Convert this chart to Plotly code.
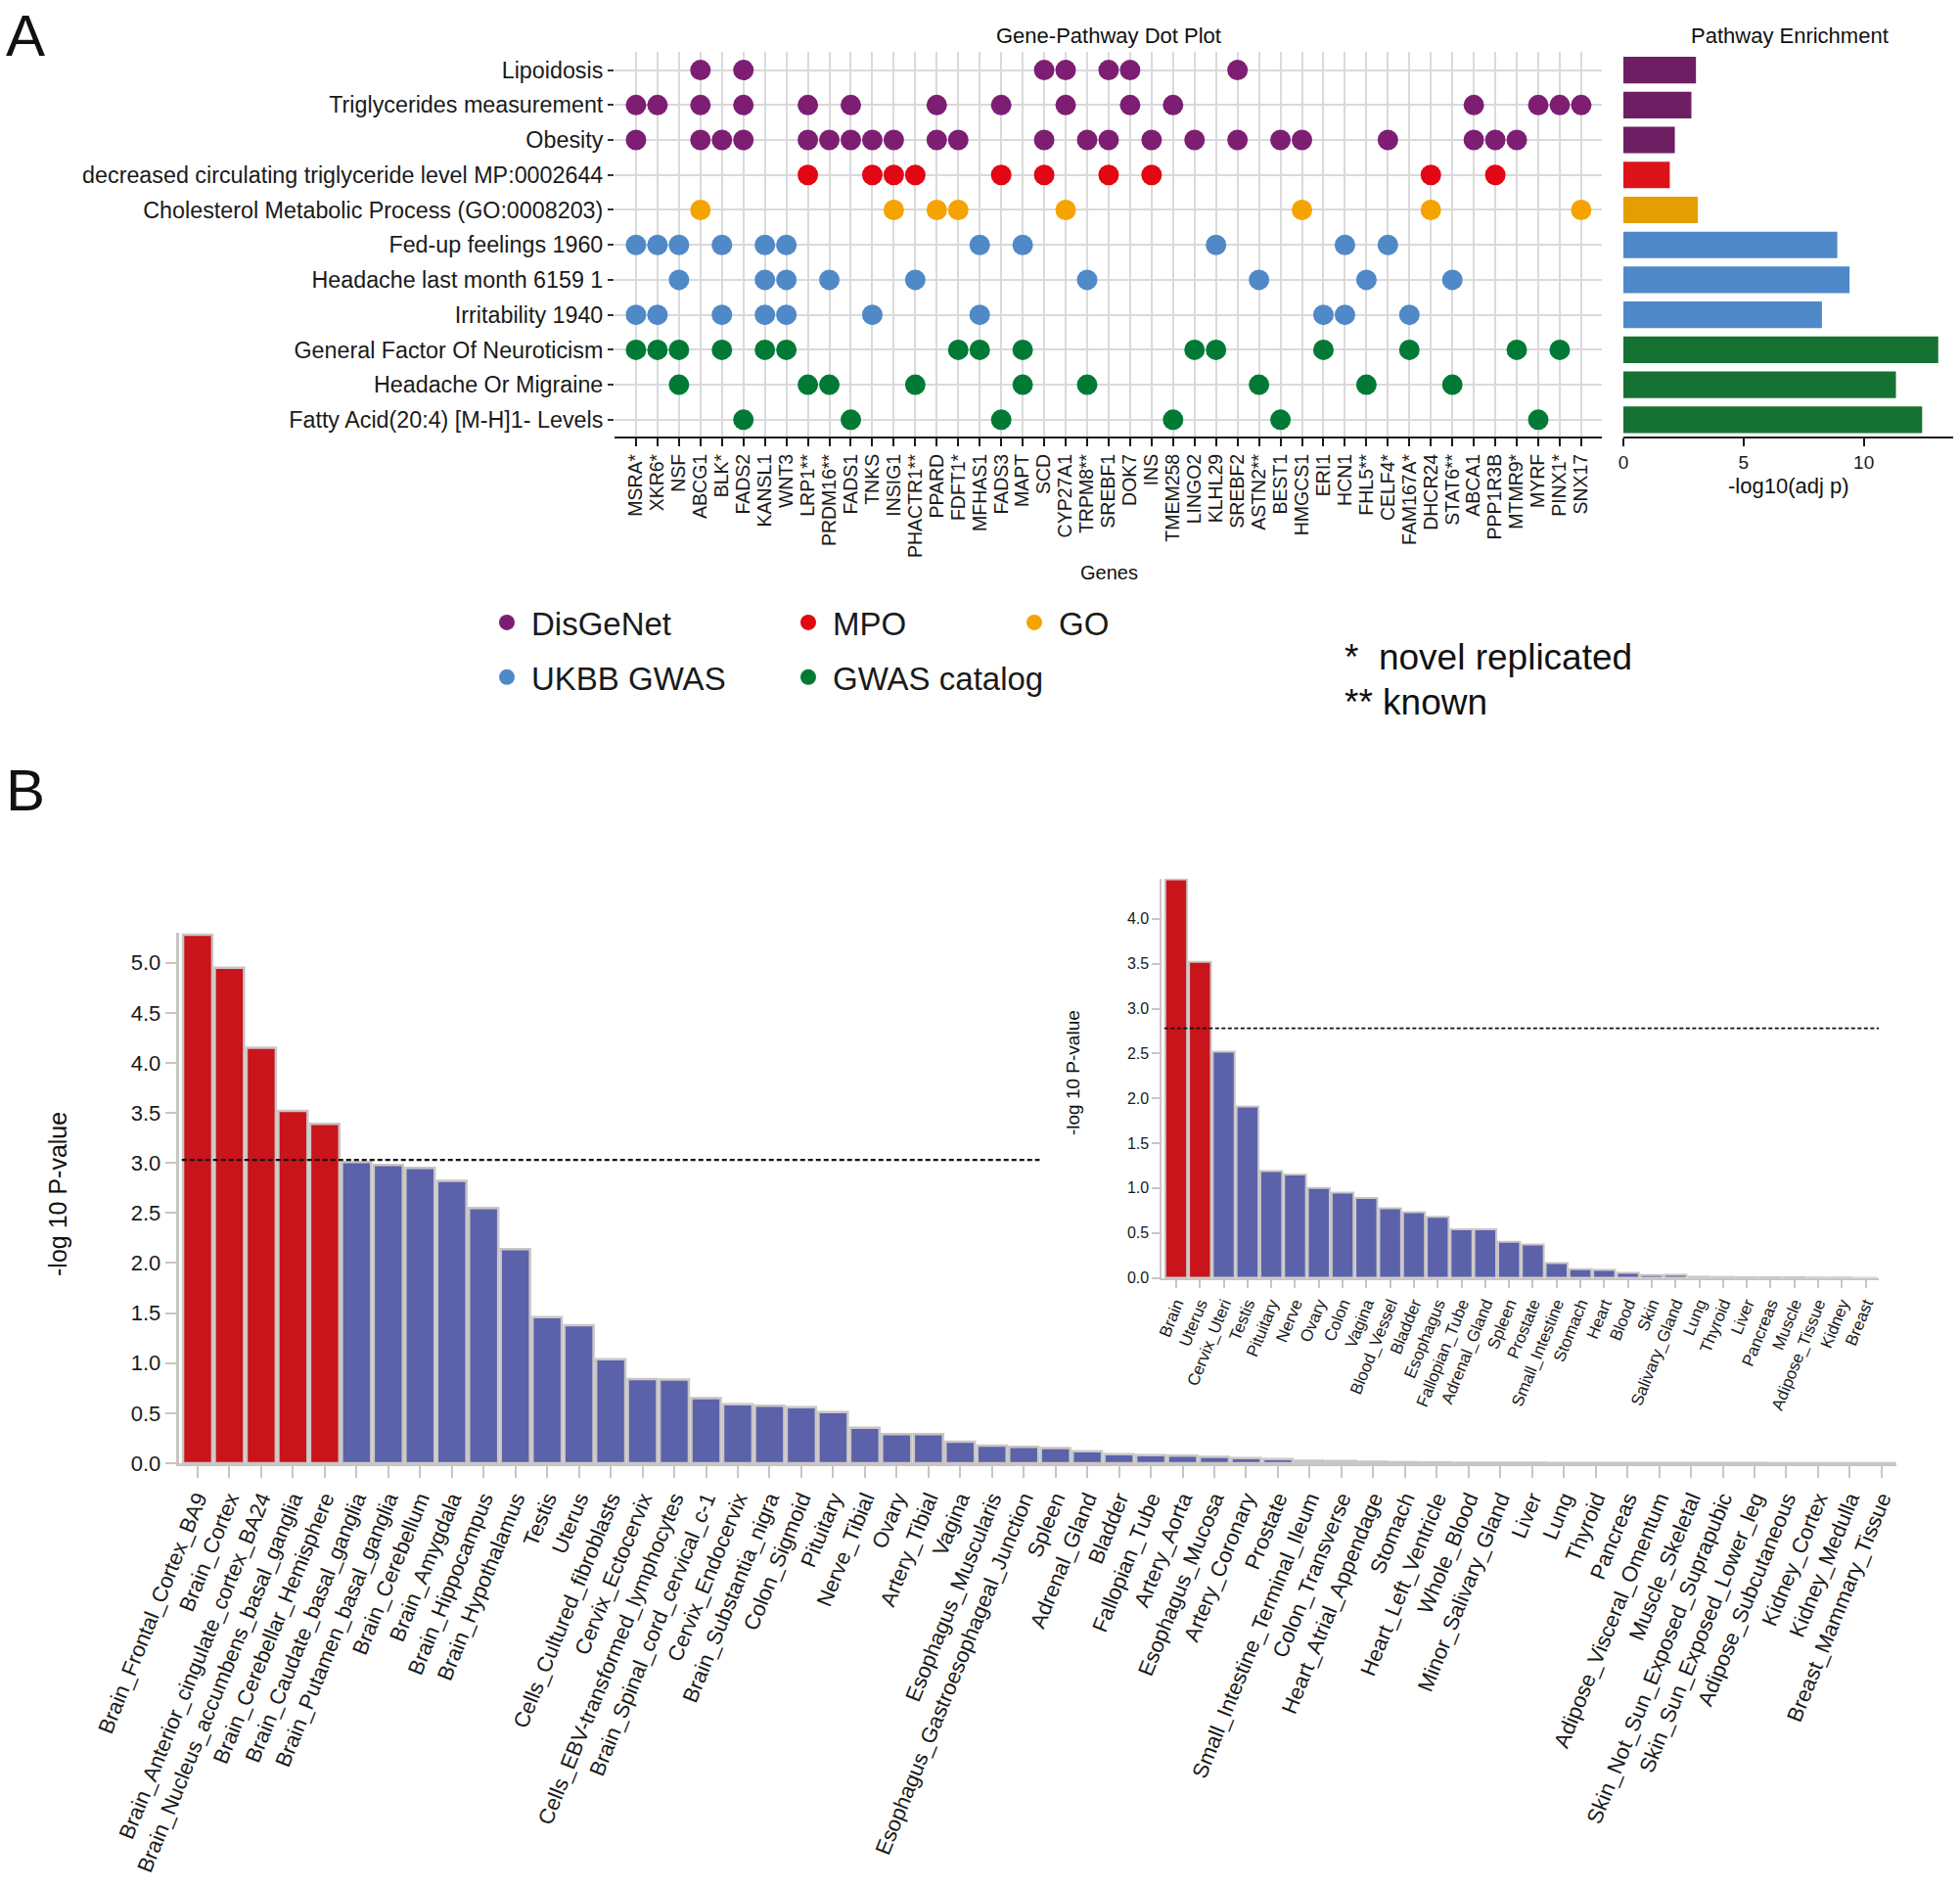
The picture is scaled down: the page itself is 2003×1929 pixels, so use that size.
import plotly.graph_objects as go

W, H = 2003, 1929
FONT = "Liberation Sans, Arial, sans-serif"

# ---------------- Panel A data ----------------
genes = ["MSRA*", "XKR6*", "NSF", "ABCG1", "BLK*", "FADS2", "KANSL1", "WNT3", "LRP1**",
         "PRDM16**", "FADS1", "TNKS", "INSIG1", "PHACTR1**", "PPARD", "FDFT1*", "MFHAS1",
         "FADS3", "MAPT", "SCD", "CYP27A1", "TRPM8**", "SREBF1", "DOK7", "INS", "TMEM258",
         "LINGO2", "KLHL29", "SREBF2", "ASTN2**", "BEST1", "HMGCS1", "ERI1", "HCN1", "FHL5**",
         "CELF4*", "FAM167A*", "DHCR24", "STAT6**", "ABCA1", "PPP1R3B", "MTMR9*", "MYRF",
         "PINX1*", "SNX17"]

pathways = ["Lipoidosis", "Triglycerides measurement", "Obesity",
            "decreased circulating triglyceride level MP:0002644",
            "Cholesterol Metabolic Process (GO:0008203)", "Fed-up feelings 1960",
            "Headache last month 6159 1", "Irritability 1940",
            "General Factor Of Neuroticism", "Headache Or Migraine",
            "Fatty Acid(20:4) [M-H]1- Levels"]

pathway_source = ["DisGeNet", "DisGeNet", "DisGeNet", "MPO", "GO", "UKBB GWAS", "UKBB GWAS",
                  "UKBB GWAS", "GWAS catalog", "GWAS catalog", "GWAS catalog"]

pathway_enrichment = [3.02, 2.83, 2.14, 1.93, 3.10, 8.90, 9.41, 8.26, 13.10, 11.34, 12.43]

genes_lipoidosis = ["ABCG1", "FADS2", "SCD", "CYP27A1", "SREBF1", "DOK7", "SREBF2"]
genes_triglycerides = ["MSRA*", "XKR6*", "ABCG1", "FADS2", "LRP1**", "FADS1", "PPARD", "FADS3",
                       "CYP27A1", "DOK7", "TMEM258", "ABCA1", "MYRF", "PINX1*", "SNX17"]
genes_obesity = ["MSRA*", "ABCG1", "BLK*", "FADS2", "LRP1**", "PRDM16**", "FADS1", "TNKS",
                 "INSIG1", "PPARD", "FDFT1*", "SCD", "TRPM8**", "SREBF1", "INS", "LINGO2",
                 "SREBF2", "BEST1", "HMGCS1", "CELF4*", "ABCA1", "PPP1R3B", "MTMR9*"]
genes_mpo = ["LRP1**", "TNKS", "INSIG1", "PHACTR1**", "FADS3", "SCD", "SREBF1", "INS",
             "DHCR24", "PPP1R3B"]
genes_go = ["ABCG1", "INSIG1", "PPARD", "FDFT1*", "CYP27A1", "HMGCS1", "DHCR24", "SNX17"]
genes_fedup = ["MSRA*", "XKR6*", "NSF", "BLK*", "KANSL1", "WNT3", "MFHAS1", "MAPT", "KLHL29",
               "HCN1", "CELF4*"]
genes_headache_month = ["NSF", "KANSL1", "WNT3", "PRDM16**", "PHACTR1**", "TRPM8**",
                        "ASTN2**", "FHL5**", "STAT6**"]
genes_irritability = ["MSRA*", "XKR6*", "BLK*", "KANSL1", "WNT3", "TNKS", "MFHAS1", "ERI1",
                      "HCN1", "FAM167A*"]
genes_neuroticism = ["MSRA*", "XKR6*", "NSF", "BLK*", "KANSL1", "WNT3", "FDFT1*", "MFHAS1",
                     "MAPT", "LINGO2", "KLHL29", "ERI1", "FAM167A*", "MTMR9*", "PINX1*"]
genes_migraine = ["NSF", "LRP1**", "PRDM16**", "PHACTR1**", "MAPT", "TRPM8**", "ASTN2**",
                  "FHL5**", "STAT6**"]
genes_fatty_acid = ["FADS2", "FADS1", "FADS3", "TMEM258", "BEST1", "MYRF"]

pathway_genes = [genes_lipoidosis, genes_triglycerides, genes_obesity, genes_mpo, genes_go,
                 genes_fedup, genes_headache_month, genes_irritability, genes_neuroticism,
                 genes_migraine, genes_fatty_acid]

sources = ["DisGeNet", "MPO", "GO", "UKBB GWAS", "GWAS catalog"]
dot_colors = {"DisGeNet": "#7D1E73", "MPO": "#E30613", "GO": "#F5A300",
              "UKBB GWAS": "#5089C8", "GWAS catalog": "#007A35"}
bar_colors = {"DisGeNet": "#6E1F63", "MPO": "#DC1419", "GO": "#E59E00",
              "UKBB GWAS": "#4F89C9", "GWAS catalog": "#167233"}
legend_of = {"DisGeNet": "legend", "UKBB GWAS": "legend",
             "MPO": "legend2", "GWAS catalog": "legend2", "GO": "legend3"}

# ---------------- Panel B data ----------------
tissues = ["Brain_Frontal_Cortex_BA9", "Brain_Cortex", "Brain_Anterior_cingulate_cortex_BA24",
           "Brain_Nucleus_accumbens_basal_ganglia", "Brain_Cerebellar_Hemisphere",
           "Brain_Caudate_basal_ganglia", "Brain_Putamen_basal_ganglia", "Brain_Cerebellum",
           "Brain_Amygdala", "Brain_Hippocampus", "Brain_Hypothalamus", "Testis", "Uterus",
           "Cells_Cultured_fibroblasts", "Cervix_Ectocervix", "Cells_EBV-transformed_lymphocytes",
           "Brain_Spinal_cord_cervical_c-1", "Cervix_Endocervix", "Brain_Substantia_nigra",
           "Colon_Sigmoid", "Pituitary", "Nerve_Tibial", "Ovary", "Artery_Tibial", "Vagina",
           "Esophagus_Muscularis", "Esophagus_Gastroesophageal_Junction", "Spleen",
           "Adrenal_Gland", "Bladder", "Fallopian_Tube", "Artery_Aorta", "Esophagus_Mucosa",
           "Artery_Coronary", "Prostate", "Small_Intestine_Terminal_Ileum", "Colon_Transverse",
           "Heart_Atrial_Appendage", "Stomach", "Heart_Left_Ventricle", "Whole_Blood",
           "Minor_Salivary_Gland", "Liver", "Lung", "Thyroid", "Pancreas",
           "Adipose_Visceral_Omentum", "Muscle_Skeletal", "Skin_Not_Sun_Exposed_Suprapubic",
           "Skin_Sun_Exposed_Lower_leg", "Adipose_Subcutaneous", "Kidney_Cortex",
           "Kidney_Medulla", "Breast_Mammary_Tissue"]
tissue_values = [5.28, 4.95, 4.15, 3.52, 3.39, 3.01, 2.98, 2.95, 2.82, 2.55, 2.14, 1.46, 1.38,
                 1.04, 0.84, 0.835, 0.65, 0.59, 0.575, 0.56, 0.51, 0.355, 0.29, 0.29, 0.215,
                 0.175, 0.164, 0.152, 0.119, 0.091, 0.080, 0.077, 0.063, 0.052, 0.042, 0.024,
                 0.021, 0.014, 0.010, 0.007, 0.005, 0.004, 0.004, 0.003, 0.003, 0.003, 0.002,
                 0.002, 0.002, 0.002, 0.001, 0.001, 0.001, 0.001]
tissue_threshold = 3.03

organs = ["Brain", "Uterus", "Cervix_Uteri", "Testis", "Pituitary", "Nerve", "Ovary", "Colon",
          "Vagina", "Blood_Vessel", "Bladder", "Esophagus", "Fallopian_Tube", "Adrenal_Gland",
          "Spleen", "Prostate", "Small_Intestine", "Stomach", "Heart", "Blood", "Skin",
          "Salivary_Gland", "Lung", "Thyroid", "Liver", "Pancreas", "Muscle", "Adipose_Tissue",
          "Kidney", "Breast"]
organ_values = [4.44, 3.52, 2.52, 1.91, 1.19, 1.15, 1.00, 0.95, 0.89, 0.775, 0.73, 0.68, 0.54,
                0.54, 0.40, 0.37, 0.165, 0.095, 0.087, 0.055, 0.030, 0.033, 0.011, 0.007,
                0.006, 0.005, 0.005, 0.004, 0.002, 0.001]
organ_threshold = 2.78

SIG_RED = "#C8141A"
NONSIG_BLUE = "#5B62AA"
OUTLINE = "#C9C5C5"


def px_x(p):
    return p / W


def px_y(p):
    return 1 - p / H


fig = go.Figure()

# ---- dot plot traces ----
for src in sources:
    xs, ys = [], []
    for pw, s, gl in zip(pathways, pathway_source, pathway_genes):
        if s == src:
            for g in gl:
                xs.append(g)
                ys.append(pw)
    fig.add_trace(go.Scatter(
        x=xs, y=ys, mode="markers", name=src, legendgroup=src,
        legend=legend_of[src],
        marker=dict(color=dot_colors[src], size=21, line=dict(width=0)),
        xaxis="x", yaxis="y", cliponaxis=False))

# ---- pathway enrichment bars ----
fig.add_trace(go.Bar(
    x=pathway_enrichment, y=pathways, orientation="h", width=0.76,
    marker=dict(color=[bar_colors[s] for s in pathway_source], line=dict(width=0)),
    xaxis="x2", yaxis="y2", showlegend=False))

# ---- panel B main bars ----
fig.add_trace(go.Bar(
    x=tissues, y=tissue_values,
    marker=dict(color=[SIG_RED if v > tissue_threshold else NONSIG_BLUE for v in tissue_values],
                line=dict(color=OUTLINE, width=2.5)),
    xaxis="x3", yaxis="y3", showlegend=False))

# ---- panel B inset bars ----
fig.add_trace(go.Bar(
    x=organs, y=organ_values,
    marker=dict(color=[SIG_RED if v > organ_threshold else NONSIG_BLUE for v in organ_values],
                line=dict(color=OUTLINE, width=2)),
    xaxis="x4", yaxis="y4", showlegend=False))

# threshold lines
fig.add_shape(type="line", xref="x3", yref="y3", x0=-0.5, x1=26.5,
              y0=tissue_threshold, y1=tissue_threshold,
              line=dict(color="#111111", width=2.2, dash="5px,3px"))
fig.add_shape(type="line", xref="x4", yref="y4", x0=-0.5, x1=29.55,
              y0=organ_threshold, y1=organ_threshold,
              line=dict(color="#111111", width=1.8, dash="4px,2.5px"))

GRID = "#DADADA"
dom_y_A = [px_y(446), px_y(53)]

layout = dict(
    template="none",
    width=W, height=H, autosize=False,
    margin=dict(l=0, r=0, t=0, b=0, pad=0),
    paper_bgcolor="white", plot_bgcolor="white",
    font=dict(family=FONT, color="#1a1a1a"),
    bargap=0.08,
    xaxis=dict(domain=[px_x(628), px_x(1637)], type="category", categoryorder="array",
               categoryarray=genes, tickvals=genes, range=[-1, 44.96], anchor="y",
               automargin=False,
               showgrid=True, gridcolor=GRID, gridwidth=1.5,
               showline=True, linecolor="#1a1a1a", linewidth=2,
               ticks="outside", ticklen=8, tickwidth=1.5, tickcolor="#1a1a1a",
               tickangle=-90, tickfont=dict(size=19.5, color="#1a1a1a"), zeroline=False),
    yaxis=dict(domain=dom_y_A, type="category", categoryorder="array",
               categoryarray=pathways, range=[10.48, -0.52], anchor="x",
               automargin=False,
               showgrid=True, gridcolor=GRID, gridwidth=1.5, showline=False,
               ticks="outside", ticklen=6, tickwidth=1.5, tickcolor="#333333",
               tickfont=dict(size=23.3, color="#1a1a1a"), zeroline=False),
    xaxis2=dict(domain=[px_x(1659), px_x(1996)], range=[0, 13.72], anchor="y2",
                automargin=False,
                showgrid=False, showline=True, linecolor="#1a1a1a", linewidth=2,
                ticks="outside", ticklen=8, tickwidth=1.5, tickcolor="#1a1a1a",
                tickvals=[0, 5, 10], tickfont=dict(size=19, color="#1a1a1a"), zeroline=False),
    yaxis2=dict(domain=dom_y_A, type="category", categoryorder="array",
                categoryarray=pathways, range=[10.48, -0.52], anchor="x2",
                automargin=False,
                showgrid=False, showline=False, showticklabels=False, ticks="",
                zeroline=False),
    xaxis3=dict(domain=[px_x(182.5), px_x(1937.5)], type="category", categoryorder="array",
                categoryarray=tissues, range=[-0.6, 53.45], anchor="y3",
                automargin=False,
                showgrid=False, showline=True, linecolor=OUTLINE, linewidth=2.5,
                ticks="outside", ticklen=12, tickwidth=2, tickcolor=OUTLINE,
                tickangle=-68, tickfont=dict(size=22, color="#1a1a1a"), zeroline=False),
    yaxis3=dict(domain=[px_y(1495), px_y(953)], range=[0, 5.3], anchor="x3",
                automargin=False,
                showgrid=False, showline=True, linecolor=OUTLINE, linewidth=2.5,
                ticks="outside", ticklen=11, tickwidth=2, tickcolor=OUTLINE,
                tickvals=[0, 0.5, 1, 1.5, 2, 2.5, 3, 3.5, 4, 4.5, 5], tickformat=".1f",
                tickfont=dict(size=22, color="#1a1a1a"), zeroline=False),
    xaxis4=dict(domain=[px_x(1187.4), px_x(1920)], type="category", categoryorder="array",
                categoryarray=organs, range=[-0.6, 29.55], anchor="y4",
                automargin=False,
                showgrid=False, showline=True, linecolor=OUTLINE, linewidth=2,
                ticks="outside", ticklen=8, tickwidth=1.5, tickcolor=OUTLINE,
                tickangle=-68, tickfont=dict(size=17, color="#1a1a1a"), zeroline=False),
    yaxis4=dict(domain=[px_y(1305.5), px_y(897.6)], range=[0, 4.45], anchor="x4",
                automargin=False,
                showgrid=False, showline=True, linecolor=OUTLINE, linewidth=2,
                ticks="outside", ticklen=8, tickwidth=1.5, tickcolor=OUTLINE,
                tickvals=[0, 0.5, 1, 1.5, 2, 2.5, 3, 3.5, 4], tickformat=".1f",
                tickfont=dict(size=16, color="#1a1a1a"), zeroline=False),
)

leg_common = dict(orientation="v", xanchor="left", yanchor="top", bgcolor="rgba(0,0,0,0)",
                  font=dict(size=33, family=FONT, color="#1a1a1a"), tracegroupgap=10,
                  itemsizing="trace", traceorder="grouped", itemwidth=40, borderwidth=0)
layout["legend"] = dict(x=px_x(493), y=px_y(608), **leg_common)
layout["legend2"] = dict(x=px_x(801), y=px_y(608), **leg_common)
layout["legend3"] = dict(x=px_x(1032), y=px_y(608), **leg_common)

fig.update_layout(**layout)

ann = []


def add_text(text, x, y, size, xanchor="center", yanchor="middle", angle=0):
    ann.append(dict(text=text, x=px_x(x), y=px_y(y), xref="paper", yref="paper",
                    showarrow=False, xanchor=xanchor, yanchor=yanchor, textangle=angle,
                    font=dict(size=size, family=FONT, color="#111111")))


add_text("A", 4, 1, 60, xanchor="left", yanchor="top")
add_text("B", 4, 772, 60, xanchor="left", yanchor="top")
add_text("Gene-Pathway Dot Plot", 1133, 37, 22)
add_text("Pathway Enrichment", 1829, 37, 22)
add_text("Genes", 1133, 585, 20)
add_text("-log10(adj p)", 1828, 496, 22)
add_text("*  novel replicated", 1372, 671, 37, xanchor="left")
add_text("** known", 1372, 717, 37, xanchor="left")
add_text("-log 10 P-value", 59, 1220, 25, angle=-90)
add_text("-log 10 P-value", 1096, 1096, 19, angle=-90)

fig.update_layout(annotations=ann)

fig.write_html("out.html")
